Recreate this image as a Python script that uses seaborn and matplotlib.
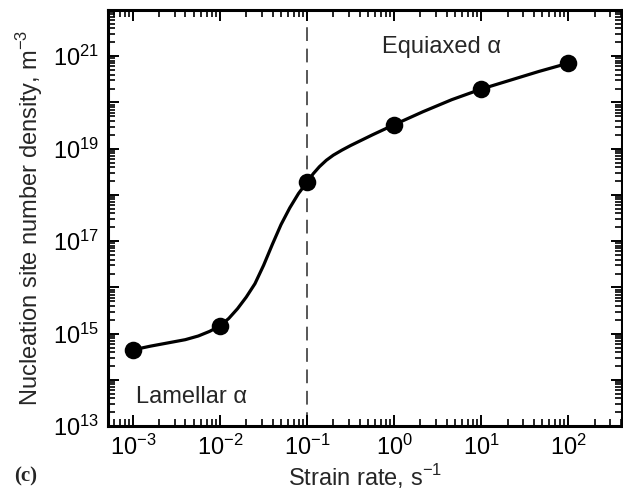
import numpy as np
import pandas as pd
import matplotlib
matplotlib.use("Agg")
import matplotlib.pyplot as plt
import matplotlib.ticker as mticker
import seaborn as sns

# measured points (strain rate s^-1, nucleation site density m^-3)
strain_rate = [1e-3, 1e-2, 1e-1, 1e0, 1e1, 1e2]
density = [4.5e14, 1.5e15, 1.9e18, 3.3e19, 1.95e20, 7.0e20]

# fitted curve as log10 values
curve_logx = [-3.0, -2.8, -2.6, -2.4, -2.25, -2.12, -2.0, -1.9, -1.8, -1.7,
              -1.6, -1.5, -1.4, -1.3, -1.2, -1.1, -1.0, -0.93, -0.86, -0.78,
              -0.7, -0.6, -0.5, -0.25, 0.0, 0.33, 0.66, 1.0, 1.33, 1.66, 2.0]
curve_logy = [14.65, 14.73, 14.80, 14.87, 14.95, 15.05, 15.17, 15.33, 15.54, 15.79,
              16.08, 16.48, 16.93, 17.36, 17.72, 18.03, 18.28, 18.46, 18.61, 18.75,
              18.86, 18.97, 19.07, 19.30, 19.52, 19.80, 20.06, 20.29, 20.48, 20.67, 20.85]

transition_rate = 0.1
x_decades = list(range(-4, 4))
y_decades = list(range(13, 23))
y_labelled = [13, 15, 17, 19, 21]

sns.set_theme(style="ticks")
plt.rcParams['font.family'] = ['Liberation Sans', 'DejaVu Sans']
plt.rcParams['mathtext.fontset'] = 'custom'
plt.rcParams['mathtext.rm'] = 'Liberation Sans'
plt.rcParams['axes.axisbelow'] = False

pts = pd.DataFrame({'x': strain_rate, 'y': density})
curve = pd.DataFrame({'x': 10.0 ** np.array(curve_logx),
                      'y': 10.0 ** np.array(curve_logy)})

fig = plt.figure(figsize=(6.23, 4.99), dpi=100)
ax = fig.add_axes([0.173, 0.146, 0.826, 0.834])
ax.set_xscale('log')
ax.set_yscale('log')

ax.axvline(transition_rate, color='#2a2a2a', lw=1.1, ls=(0, (9, 5)), zorder=1)
sns.lineplot(data=curve, x='x', y='y', sort=False, color='black', lw=2.3,
             estimator=None, ax=ax, zorder=2)
sns.scatterplot(data=pts, x='x', y='y', color='black', s=160, edgecolor='black',
                linewidth=0, ax=ax, zorder=3)

ax.set_xlim(10 ** -3.29, 10 ** 2.62)
ax.set_ylim(1e13, 1e22)

minor_x = [m * 10.0 ** d for d in x_decades for m in range(2, 10)]
minor_y = [m * 10.0 ** d for d in y_decades for m in range(2, 10)]
ax.xaxis.set_major_locator(mticker.FixedLocator([10.0 ** d for d in x_decades]))
ax.xaxis.set_minor_locator(mticker.FixedLocator(minor_x))
ax.xaxis.set_major_formatter(mticker.FuncFormatter(
    lambda v, p: r'$\mathregular{10^{%d}}$' % round(np.log10(v))))
ax.xaxis.set_minor_formatter(mticker.NullFormatter())
ax.yaxis.set_major_locator(mticker.FixedLocator([10.0 ** d for d in y_decades]))
ax.yaxis.set_minor_locator(mticker.FixedLocator(minor_y))
ax.yaxis.set_major_formatter(mticker.FuncFormatter(
    lambda v, p: r'$\mathregular{10^{%d}}$' % round(np.log10(v))
    if round(np.log10(v)) in y_labelled else ''))
ax.yaxis.set_minor_formatter(mticker.NullFormatter())

ax.tick_params(which='both', direction='in', top=True, right=True, colors='black',
               labelsize=17)
ax.tick_params(which='major', length=8, width=1.4, pad=6)
ax.tick_params(which='minor', length=5, width=1.2)
for s in ax.spines.values():
    s.set_linewidth(2.2)
    s.set_color('black')
    s.set_zorder(0.4)

ax.set_xlabel(r'Strain rate, s$^{\mathregular{-1}}$', fontsize=17, labelpad=2)
ax.set_ylabel(r'Nucleation site number density, m$^{\mathregular{-3}}$', fontsize=17, labelpad=6)

ax.text(10 ** 0.54, 10 ** 21.2, 'Equiaxed α', fontsize=17, ha='center', va='center')
ax.text(10 ** -2.33, 10 ** 13.63, 'Lamellar α', fontsize=17, ha='center', va='center')
fig.text(0.022, 0.045, '(c)', fontsize=15, fontweight='bold', family='Liberation Serif',
         ha='left', va='center')

fig.savefig('out.png', dpi=100)
